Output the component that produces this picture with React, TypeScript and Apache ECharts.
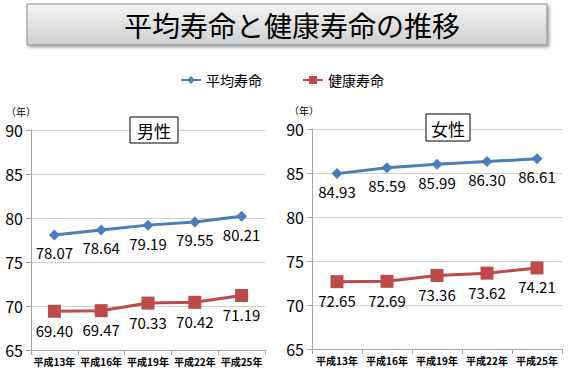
import React, { useEffect, useRef } from "react";
import * as echarts from "echarts";

const categories = ["平成13年", "平成16年", "平成19年", "平成22年", "平成25年"];
const maleAverage = [78.07, 78.64, 79.19, 79.55, 80.21];
const maleHealthy = [69.4, 69.47, 70.33, 70.42, 71.19];
const femaleAverage = [84.93, 85.59, 85.99, 86.3, 86.61];
const femaleHealthy = [72.65, 72.69, 73.36, 73.62, 74.21];
const seriesNames = ["平均寿命", "健康寿命"];
const titleText = "平均寿命と健康寿命の推移";
const panelNames = ["男性", "女性"];

const BLUE = "#4A7EBB";
const RED = "#BE4B48";
const FONT = "'Noto Sans CJK JP', 'Noto Sans', sans-serif";

export default function App() {
  const ref = useRef<HTMLDivElement>(null);
  useEffect(() => {
    document.body.style.margin = "0";
    const chart = echarts.init(ref.current!, undefined, { renderer: "svg" });
    const xAxisBase = {
      type: "category" as const,
      data: categories,
      boundaryGap: true,
      axisLine: { lineStyle: { color: "#A6A6A6", width: 1 } },
      axisTick: { show: true, alignWithLabel: false, length: 5, lineStyle: { color: "#A6A6A6" } },
      axisLabel: { interval: 0, color: "#000", fontSize: 10, fontWeight: "bold" as const, fontFamily: FONT, margin: 6 },
    };
    const yAxisBase = {
      type: "value" as const,
      min: 65,
      max: 90,
      interval: 5,
      axisLine: { show: true, lineStyle: { color: "#A6A6A6", width: 1 } },
      axisTick: { show: true, length: 5, lineStyle: { color: "#A6A6A6" } },
      splitLine: { lineStyle: { color: "#D0D0D0", width: 1 } },
      axisLabel: { color: "#000", fontSize: 16, fontFamily: FONT, margin: 8 },
    };
    const labelCfg = {
      show: true,
      position: "bottom" as const,
      distance: 5,
      color: "#000",
      fontSize: 15,
      fontFamily: FONT,
      formatter: (p: any) => Number(p.value).toFixed(2),
    };
    const mkSeries = (name: string, data: number[], idx: number, isAvg: boolean) => ({
      name,
      type: "line" as const,
      xAxisIndex: idx,
      yAxisIndex: idx,
      data,
      symbol: isAvg ? "diamond" : "rect",
      symbolSize: isAvg ? 11 : 13,
      showSymbol: true,
      lineStyle: { color: isAvg ? BLUE : RED, width: 3 },
      itemStyle: { color: isAvg ? BLUE : RED },
      label: labelCfg,
      z: isAvg ? 3 : 2,
    });
    chart.setOption({
      animation: false,
      textStyle: { fontFamily: FONT },
      legend: {
        top: 68,
        left: 175,
        itemWidth: 20,
        itemHeight: 10,
        itemGap: 40,
        textStyle: { fontSize: 14, color: "#000", fontFamily: FONT },
        data: seriesNames,
      },
      grid: [
        { left: 31, right: 305, top: 130, bottom: 23 },
        { left: 312, right: 8, top: 129, bottom: 24 },
      ],
      xAxis: [
        { ...xAxisBase, gridIndex: 0 },
        { ...xAxisBase, gridIndex: 1 },
      ],
      yAxis: [
        { ...yAxisBase, gridIndex: 0 },
        { ...yAxisBase, gridIndex: 1 },
      ],
      series: [
        mkSeries(seriesNames[0], maleAverage, 0, true),
        mkSeries(seriesNames[1], maleHealthy, 0, false),
        mkSeries(seriesNames[0], femaleAverage, 1, true),
        mkSeries(seriesNames[1], femaleHealthy, 1, false),
      ],
      graphic: [
        {
          type: "rect",
          shape: { x: 27, y: 4, width: 520, height: 41 },
          style: {
            fill: new echarts.graphic.LinearGradient(0, 0, 0, 1, [
              { offset: 0, color: "#F4F4F4" },
              { offset: 1, color: "#CFCFCF" },
            ]),
            stroke: "#8C8C8C",
            lineWidth: 1,
            shadowBlur: 3,
            shadowOffsetX: 2,
            shadowOffsetY: 2,
            shadowColor: "rgba(0,0,0,0.35)",
          },
          z: 10,
        },
        {
          type: "text",
          x: 292,
          y: 25,
          style: {
            text: titleText,
            fontSize: 28,
            fontFamily: FONT,
            fill: "#000",
            textAlign: "center",
            textVerticalAlign: "middle",
          },
          z: 11,
        },
        {
          type: "text",
          x: 21,
          y: 111,
          style: { text: "（年）", fontSize: 10, fontFamily: FONT, fill: "#000", textAlign: "center", textVerticalAlign: "middle" },
        },
        {
          type: "text",
          x: 304,
          y: 110,
          style: { text: "（年）", fontSize: 10, fontFamily: FONT, fill: "#000", textAlign: "center", textVerticalAlign: "middle" },
        },
        {
          type: "rect",
          shape: { x: 130, y: 117, width: 48, height: 26 },
          style: { fill: "#fff", stroke: "#000", lineWidth: 1 },
          z: 10,
        },
        {
          type: "text",
          x: 154,
          y: 130,
          style: { text: panelNames[0], fontSize: 17, fontFamily: FONT, fill: "#000", textAlign: "center", textVerticalAlign: "middle" },
          z: 11,
        },
        {
          type: "rect",
          shape: { x: 426, y: 114, width: 44, height: 27 },
          style: { fill: "#fff", stroke: "#000", lineWidth: 1 },
          z: 10,
        },
        {
          type: "text",
          x: 448,
          y: 128,
          style: { text: panelNames[1], fontSize: 17, fontFamily: FONT, fill: "#000", textAlign: "center", textVerticalAlign: "middle" },
          z: 11,
        },
      ],
    });
    return () => chart.dispose();
  }, []);
  return <div ref={ref} style={{ width: 570, height: 373 }} />;
}
